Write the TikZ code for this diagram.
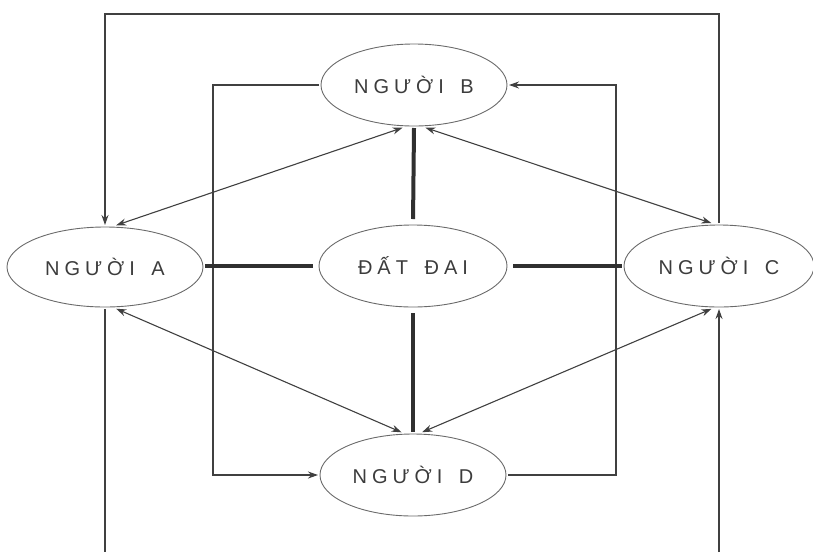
\documentclass[tikz,border=0pt]{standalone}
\usepackage{fontspec}
\setmainfont{Liberation Sans}
\newfontfamily\lblfont[LetterSpace=25]{Liberation Sans}
\usetikzlibrary{shapes.geometric,arrows.meta}
\definecolor{ellcol}{HTML}{6A6A6A}
\definecolor{txtcol}{HTML}{3C3C3C}
\definecolor{linecol}{HTML}{404040}
\definecolor{heavycol}{HTML}{303030}
\newcommand{\wgap}{ \hspace{6pt}}
\begin{document}
\begin{tikzpicture}[x=1pt,y=-1pt,
  ell/.style={ellipse, draw=ellcol, line width=0.9pt, inner sep=0pt, outer sep=2pt,
    minimum width=186pt, minimum height=82pt,
    font=\lblfont\fontsize{20}{24}\selectfont, text=txtcol},
  conn/.style={draw=linecol, line width=1.1pt},
  tip/.style={-{Stealth[length=10pt,width=7pt]}},
  dtip/.style={{Stealth[length=10pt,width=7pt]}-{Stealth[length=10pt,width=7pt]}},
  heavy/.style={draw=heavycol, line width=4pt, shorten <=4pt}]
\useasboundingbox (0,0) rectangle (813,552);
\node[ell] (B) at (414,85) {NGƯỜI\wgap B};
\node[ell, minimum width=196pt, minimum height=80pt] (A) at (105,267) {NGƯỜI\wgap A};
\node[ell, minimum width=188pt] (DD) at (413,266) {ĐẤT\wgap ĐAI};
\node[ell, minimum width=190pt] (C) at (719,266) {NGƯỜI\wgap C};
\node[ell] (D) at (413,475) {NGƯỜI\wgap D};
\coordinate (topy) at (400,14);
\coordinate (bot) at (400,552);
\coordinate (lx) at (213,280);
\coordinate (rx) at (616,280);
% outer loop
\draw[conn,tip] (C.north) |- (topy) -| (A.north);
\draw[conn] (A.south) -- (A.south |- bot);
\draw[conn,tip] (C.south |- bot) -- (C.south);
% inner loop
\draw[conn,tip] (B.west) -| (lx) |- (D.west);
\draw[conn,tip] (D.east) -| (rx) |- (B.east);
% heavy links
\draw[heavy] (DD.north) -- (B.south);
\draw[heavy] (DD.south) -- (D.north);
\draw[heavy] (DD.west) -- (DD.west -| A.east);
\draw[heavy] (DD.east) -- (DD.east -| C.west);
% diagonals
\draw[conn,dtip] (A.75) -- (B.255);
\draw[conn,dtip] (B.285) -- (C.100);
\draw[conn,dtip] (A.285) -- (D.105);
\draw[conn,dtip] (C.260) -- (D.78);
\end{tikzpicture}
\end{document}
